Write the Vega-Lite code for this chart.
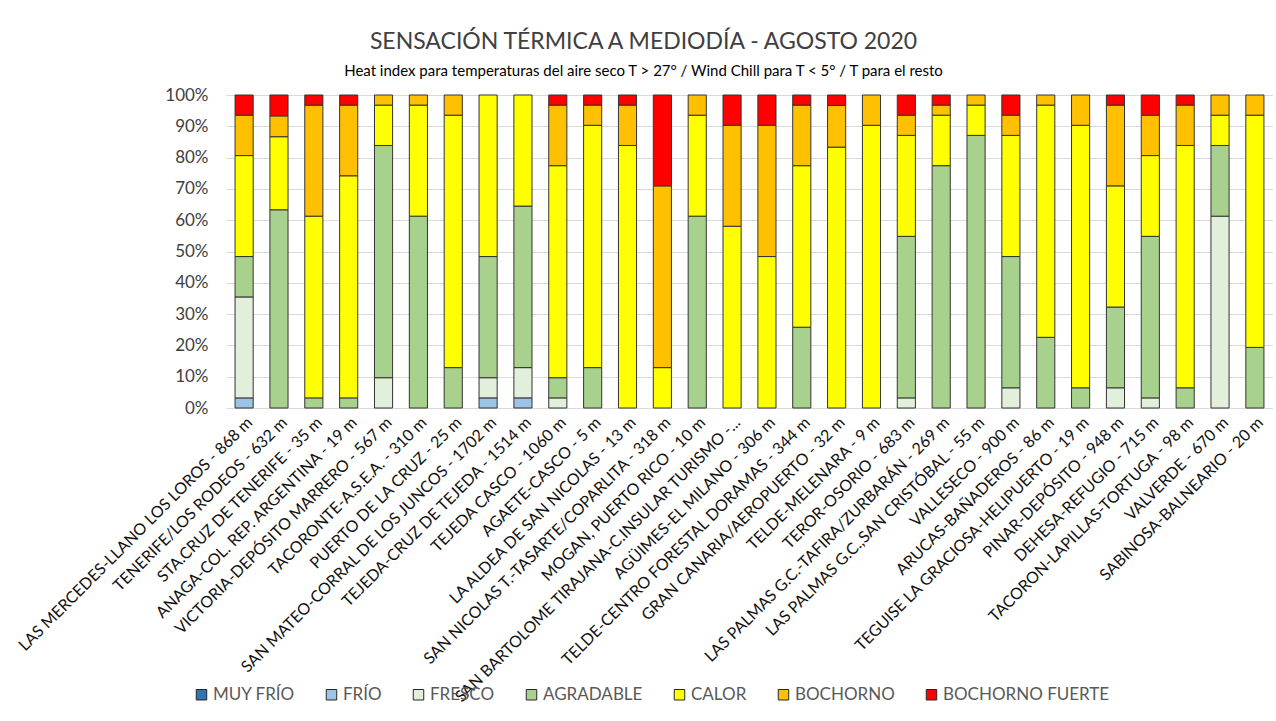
{
  "$schema": "https://vega.github.io/schema/vega-lite/v6.json",
  "width": 1047,
  "height": 313,
  "padding": {"left": 15, "top": 31, "right": 0, "bottom": 0},
  "autosize": {"type": "pad"},
  "background": "white",
  "title": {
    "text": "SENSACIÓN TÉRMICA A MEDIODÍA - AGOSTO 2020",
    "subtitle": "Heat index para temperaturas del aire seco T > 27° / Wind Chill para T < 5° /  T para el resto",
    "font": "Lato",
    "fontSize": 23,
    "fontWeight": "normal",
    "color": "#404040",
    "subtitleFont": "Lato",
    "subtitleFontSize": 15,
    "subtitleColor": "#000000",
    "subtitlePadding": 10,
    "anchor": "middle",
    "dx": -106,
    "offset": 7
  },
  "config": {"view": {"stroke": null}},
  "datasets": {
    "cats": [
      {"cat": "MUY FRÍO", "rank": 0},
      {"cat": "FRÍO", "rank": 1},
      {"cat": "FRESCO", "rank": 2},
      {"cat": "AGRADABLE", "rank": 3},
      {"cat": "CALOR", "rank": 4},
      {"cat": "BOCHORNO", "rank": 5},
      {"cat": "BOCHORNO FUERTE", "rank": 6}
    ]
  },
  "data": {
    "values": [
      {"station": "LAS MERCEDES-LLANO LOS LOROS - 868 m", "cat": "FRÍO", "days": 1},
      {"station": "LAS MERCEDES-LLANO LOS LOROS - 868 m", "cat": "FRESCO", "days": 10},
      {"station": "LAS MERCEDES-LLANO LOS LOROS - 868 m", "cat": "AGRADABLE", "days": 4},
      {"station": "LAS MERCEDES-LLANO LOS LOROS - 868 m", "cat": "CALOR", "days": 10},
      {"station": "LAS MERCEDES-LLANO LOS LOROS - 868 m", "cat": "BOCHORNO", "days": 4},
      {"station": "LAS MERCEDES-LLANO LOS LOROS - 868 m", "cat": "BOCHORNO FUERTE", "days": 2},
      {"station": "TENERIFE/LOS RODEOS - 632 m", "cat": "AGRADABLE", "days": 19},
      {"station": "TENERIFE/LOS RODEOS - 632 m", "cat": "CALOR", "days": 7},
      {"station": "TENERIFE/LOS RODEOS - 632 m", "cat": "BOCHORNO", "days": 2},
      {"station": "TENERIFE/LOS RODEOS - 632 m", "cat": "BOCHORNO FUERTE", "days": 2},
      {"station": "STA.CRUZ DE TENERIFE - 35 m", "cat": "AGRADABLE", "days": 1},
      {"station": "STA.CRUZ DE TENERIFE - 35 m", "cat": "CALOR", "days": 18},
      {"station": "STA.CRUZ DE TENERIFE - 35 m", "cat": "BOCHORNO", "days": 11},
      {"station": "STA.CRUZ DE TENERIFE - 35 m", "cat": "BOCHORNO FUERTE", "days": 1},
      {"station": "ANAGA-COL. REP. ARGENTINA - 19 m", "cat": "AGRADABLE", "days": 1},
      {"station": "ANAGA-COL. REP. ARGENTINA - 19 m", "cat": "CALOR", "days": 22},
      {"station": "ANAGA-COL. REP. ARGENTINA - 19 m", "cat": "BOCHORNO", "days": 7},
      {"station": "ANAGA-COL. REP. ARGENTINA - 19 m", "cat": "BOCHORNO FUERTE", "days": 1},
      {"station": "VICTORIA-DEPÓSITO MARRERO - 567 m", "cat": "FRESCO", "days": 3},
      {"station": "VICTORIA-DEPÓSITO MARRERO - 567 m", "cat": "AGRADABLE", "days": 23},
      {"station": "VICTORIA-DEPÓSITO MARRERO - 567 m", "cat": "CALOR", "days": 4},
      {"station": "VICTORIA-DEPÓSITO MARRERO - 567 m", "cat": "BOCHORNO", "days": 1},
      {"station": "TACORONTE-A.S.E.A. - 310 m", "cat": "AGRADABLE", "days": 19},
      {"station": "TACORONTE-A.S.E.A. - 310 m", "cat": "CALOR", "days": 11},
      {"station": "TACORONTE-A.S.E.A. - 310 m", "cat": "BOCHORNO", "days": 1},
      {"station": "PUERTO DE LA CRUZ - 25 m", "cat": "AGRADABLE", "days": 4},
      {"station": "PUERTO DE LA CRUZ - 25 m", "cat": "CALOR", "days": 25},
      {"station": "PUERTO DE LA CRUZ - 25 m", "cat": "BOCHORNO", "days": 2},
      {"station": "SAN MATEO-CORRAL DE LOS JUNCOS - 1702 m", "cat": "FRÍO", "days": 1},
      {"station": "SAN MATEO-CORRAL DE LOS JUNCOS - 1702 m", "cat": "FRESCO", "days": 2},
      {"station": "SAN MATEO-CORRAL DE LOS JUNCOS - 1702 m", "cat": "AGRADABLE", "days": 12},
      {"station": "SAN MATEO-CORRAL DE LOS JUNCOS - 1702 m", "cat": "CALOR", "days": 16},
      {"station": "TEJEDA-CRUZ DE TEJEDA - 1514 m", "cat": "FRÍO", "days": 1},
      {"station": "TEJEDA-CRUZ DE TEJEDA - 1514 m", "cat": "FRESCO", "days": 3},
      {"station": "TEJEDA-CRUZ DE TEJEDA - 1514 m", "cat": "AGRADABLE", "days": 16},
      {"station": "TEJEDA-CRUZ DE TEJEDA - 1514 m", "cat": "CALOR", "days": 11},
      {"station": "TEJEDA CASCO - 1060 m", "cat": "FRESCO", "days": 1},
      {"station": "TEJEDA CASCO - 1060 m", "cat": "AGRADABLE", "days": 2},
      {"station": "TEJEDA CASCO - 1060 m", "cat": "CALOR", "days": 21},
      {"station": "TEJEDA CASCO - 1060 m", "cat": "BOCHORNO", "days": 6},
      {"station": "TEJEDA CASCO - 1060 m", "cat": "BOCHORNO FUERTE", "days": 1},
      {"station": "AGAETE-CASCO - 5 m", "cat": "AGRADABLE", "days": 4},
      {"station": "AGAETE-CASCO - 5 m", "cat": "CALOR", "days": 24},
      {"station": "AGAETE-CASCO - 5 m", "cat": "BOCHORNO", "days": 2},
      {"station": "AGAETE-CASCO - 5 m", "cat": "BOCHORNO FUERTE", "days": 1},
      {"station": "LA ALDEA DE SAN NICOLAS - 13 m", "cat": "CALOR", "days": 26},
      {"station": "LA ALDEA DE SAN NICOLAS - 13 m", "cat": "BOCHORNO", "days": 4},
      {"station": "LA ALDEA DE SAN NICOLAS - 13 m", "cat": "BOCHORNO FUERTE", "days": 1},
      {"station": "SAN NICOLAS T.-TASARTE/COPARLITA - 318 m", "cat": "CALOR", "days": 4},
      {"station": "SAN NICOLAS T.-TASARTE/COPARLITA - 318 m", "cat": "BOCHORNO", "days": 18},
      {"station": "SAN NICOLAS T.-TASARTE/COPARLITA - 318 m", "cat": "BOCHORNO FUERTE", "days": 9},
      {"station": "MOGAN, PUERTO RICO - 10 m", "cat": "AGRADABLE", "days": 19},
      {"station": "MOGAN, PUERTO RICO - 10 m", "cat": "CALOR", "days": 10},
      {"station": "MOGAN, PUERTO RICO - 10 m", "cat": "BOCHORNO", "days": 2},
      {"station": "SAN BARTOLOME TIRAJANA-C.INSULAR TURISMO -...", "cat": "CALOR", "days": 18},
      {"station": "SAN BARTOLOME TIRAJANA-C.INSULAR TURISMO -...", "cat": "BOCHORNO", "days": 10},
      {"station": "SAN BARTOLOME TIRAJANA-C.INSULAR TURISMO -...", "cat": "BOCHORNO FUERTE", "days": 3},
      {"station": "AGÜIMES-EL MILANO - 306 m", "cat": "CALOR", "days": 15},
      {"station": "AGÜIMES-EL MILANO - 306 m", "cat": "BOCHORNO", "days": 13},
      {"station": "AGÜIMES-EL MILANO - 306 m", "cat": "BOCHORNO FUERTE", "days": 3},
      {"station": "TELDE-CENTRO FORESTAL DORAMAS - 344 m", "cat": "AGRADABLE", "days": 8},
      {"station": "TELDE-CENTRO FORESTAL DORAMAS - 344 m", "cat": "CALOR", "days": 16},
      {"station": "TELDE-CENTRO FORESTAL DORAMAS - 344 m", "cat": "BOCHORNO", "days": 6},
      {"station": "TELDE-CENTRO FORESTAL DORAMAS - 344 m", "cat": "BOCHORNO FUERTE", "days": 1},
      {"station": "GRAN CANARIA/AEROPUERTO - 32 m", "cat": "CALOR", "days": 25},
      {"station": "GRAN CANARIA/AEROPUERTO - 32 m", "cat": "BOCHORNO", "days": 4},
      {"station": "GRAN CANARIA/AEROPUERTO - 32 m", "cat": "BOCHORNO FUERTE", "days": 1},
      {"station": "TELDE-MELENARA - 9 m", "cat": "CALOR", "days": 28},
      {"station": "TELDE-MELENARA - 9 m", "cat": "BOCHORNO", "days": 3},
      {"station": "TEROR-OSORIO - 683 m", "cat": "FRESCO", "days": 1},
      {"station": "TEROR-OSORIO - 683 m", "cat": "AGRADABLE", "days": 16},
      {"station": "TEROR-OSORIO - 683 m", "cat": "CALOR", "days": 10},
      {"station": "TEROR-OSORIO - 683 m", "cat": "BOCHORNO", "days": 2},
      {"station": "TEROR-OSORIO - 683 m", "cat": "BOCHORNO FUERTE", "days": 2},
      {"station": "LAS PALMAS G.C.-TAFIRA/ZURBARÁN - 269 m", "cat": "AGRADABLE", "days": 24},
      {"station": "LAS PALMAS G.C.-TAFIRA/ZURBARÁN - 269 m", "cat": "CALOR", "days": 5},
      {"station": "LAS PALMAS G.C.-TAFIRA/ZURBARÁN - 269 m", "cat": "BOCHORNO", "days": 1},
      {"station": "LAS PALMAS G.C.-TAFIRA/ZURBARÁN - 269 m", "cat": "BOCHORNO FUERTE", "days": 1},
      {"station": "LAS PALMAS G.C.,SAN CRISTÓBAL - 55 m", "cat": "AGRADABLE", "days": 27},
      {"station": "LAS PALMAS G.C.,SAN CRISTÓBAL - 55 m", "cat": "CALOR", "days": 3},
      {"station": "LAS PALMAS G.C.,SAN CRISTÓBAL - 55 m", "cat": "BOCHORNO", "days": 1},
      {"station": "VALLESECO - 900 m", "cat": "FRESCO", "days": 2},
      {"station": "VALLESECO - 900 m", "cat": "AGRADABLE", "days": 13},
      {"station": "VALLESECO - 900 m", "cat": "CALOR", "days": 12},
      {"station": "VALLESECO - 900 m", "cat": "BOCHORNO", "days": 2},
      {"station": "VALLESECO - 900 m", "cat": "BOCHORNO FUERTE", "days": 2},
      {"station": "ARUCAS-BAÑADEROS - 86 m", "cat": "AGRADABLE", "days": 7},
      {"station": "ARUCAS-BAÑADEROS - 86 m", "cat": "CALOR", "days": 23},
      {"station": "ARUCAS-BAÑADEROS - 86 m", "cat": "BOCHORNO", "days": 1},
      {"station": "TEGUISE LA GRACIOSA-HELIPUERTO - 19 m", "cat": "AGRADABLE", "days": 2},
      {"station": "TEGUISE LA GRACIOSA-HELIPUERTO - 19 m", "cat": "CALOR", "days": 26},
      {"station": "TEGUISE LA GRACIOSA-HELIPUERTO - 19 m", "cat": "BOCHORNO", "days": 3},
      {"station": "PINAR-DEPÓSITO - 948 m", "cat": "FRESCO", "days": 2},
      {"station": "PINAR-DEPÓSITO - 948 m", "cat": "AGRADABLE", "days": 8},
      {"station": "PINAR-DEPÓSITO - 948 m", "cat": "CALOR", "days": 12},
      {"station": "PINAR-DEPÓSITO - 948 m", "cat": "BOCHORNO", "days": 8},
      {"station": "PINAR-DEPÓSITO - 948 m", "cat": "BOCHORNO FUERTE", "days": 1},
      {"station": "DEHESA-REFUGIO - 715 m", "cat": "FRESCO", "days": 1},
      {"station": "DEHESA-REFUGIO - 715 m", "cat": "AGRADABLE", "days": 16},
      {"station": "DEHESA-REFUGIO - 715 m", "cat": "CALOR", "days": 8},
      {"station": "DEHESA-REFUGIO - 715 m", "cat": "BOCHORNO", "days": 4},
      {"station": "DEHESA-REFUGIO - 715 m", "cat": "BOCHORNO FUERTE", "days": 2},
      {"station": "TACORON-LAPILLAS-TORTUGA - 98 m", "cat": "AGRADABLE", "days": 2},
      {"station": "TACORON-LAPILLAS-TORTUGA - 98 m", "cat": "CALOR", "days": 24},
      {"station": "TACORON-LAPILLAS-TORTUGA - 98 m", "cat": "BOCHORNO", "days": 4},
      {"station": "TACORON-LAPILLAS-TORTUGA - 98 m", "cat": "BOCHORNO FUERTE", "days": 1},
      {"station": "VALVERDE - 670 m", "cat": "FRESCO", "days": 19},
      {"station": "VALVERDE - 670 m", "cat": "AGRADABLE", "days": 7},
      {"station": "VALVERDE - 670 m", "cat": "CALOR", "days": 3},
      {"station": "VALVERDE - 670 m", "cat": "BOCHORNO", "days": 2},
      {"station": "SABINOSA-BALNEARIO - 20 m", "cat": "AGRADABLE", "days": 6},
      {"station": "SABINOSA-BALNEARIO - 20 m", "cat": "CALOR", "days": 23},
      {"station": "SABINOSA-BALNEARIO - 20 m", "cat": "BOCHORNO", "days": 2}
    ]
  },
  "transform": [
    {"lookup": "cat", "from": {"data": {"name": "cats"}, "key": "cat", "fields": ["rank"]}}
  ],
  "mark": {"type": "bar", "stroke": "#333333", "strokeWidth": 1},
  "encoding": {
    "x": {
      "field": "station",
      "type": "nominal",
      "sort": null,
      "scale": {"paddingInner": 0.48, "paddingOuter": 0.26},
      "axis": {
        "title": null,
        "labelAngle": -45,
        "labelFont": "Lato",
        "labelFontSize": 16,
        "labelColor": "#111111",
        "domain": false,
        "ticks": false,
        "labelPadding": 6,
        "labelLimit": 0
      }
    },
    "y": {
      "field": "days",
      "type": "quantitative",
      "stack": "normalize",
      "scale": {"domain": [0, 1]},
      "axis": {
        "title": null,
        "format": ".0%",
        "values": [0, 0.1, 0.2, 0.3, 0.4, 0.5, 0.6, 0.7, 0.8, 0.9, 1],
        "domain": false,
        "ticks": false,
        "gridColor": "#d9d9d9",
        "gridWidth": 1,
        "labelFont": "Lato",
        "labelFontSize": 17,
        "labelColor": "#404040",
        "labelPadding": 18
      }
    },
    "order": {"field": "rank", "type": "quantitative", "sort": "ascending"},
    "color": {
      "field": "cat",
      "type": "nominal",
      "scale": {
        "domain": ["MUY FRÍO", "FRÍO", "FRESCO", "AGRADABLE", "CALOR", "BOCHORNO", "BOCHORNO FUERTE"],
        "range": ["#2E75B6", "#9DC3E6", "#E2EFDA", "#A9D18E", "#FFFF00", "#FFC000", "#FF0000"]
      },
      "legend": {
        "title": null,
        "orient": "none",
        "direction": "horizontal",
        "legendX": -33,
        "legendY": 591,
        "symbolType": "square",
        "symbolSize": 110,
        "symbolStrokeColor": "#262626",
        "symbolStrokeWidth": 1,
        "labelFont": "Lato",
        "labelFontSize": 17,
        "labelColor": "#595959",
        "labelOffset": 3,
        "labelLimit": 0,
        "columnPadding": 28
      }
    }
  }
}
